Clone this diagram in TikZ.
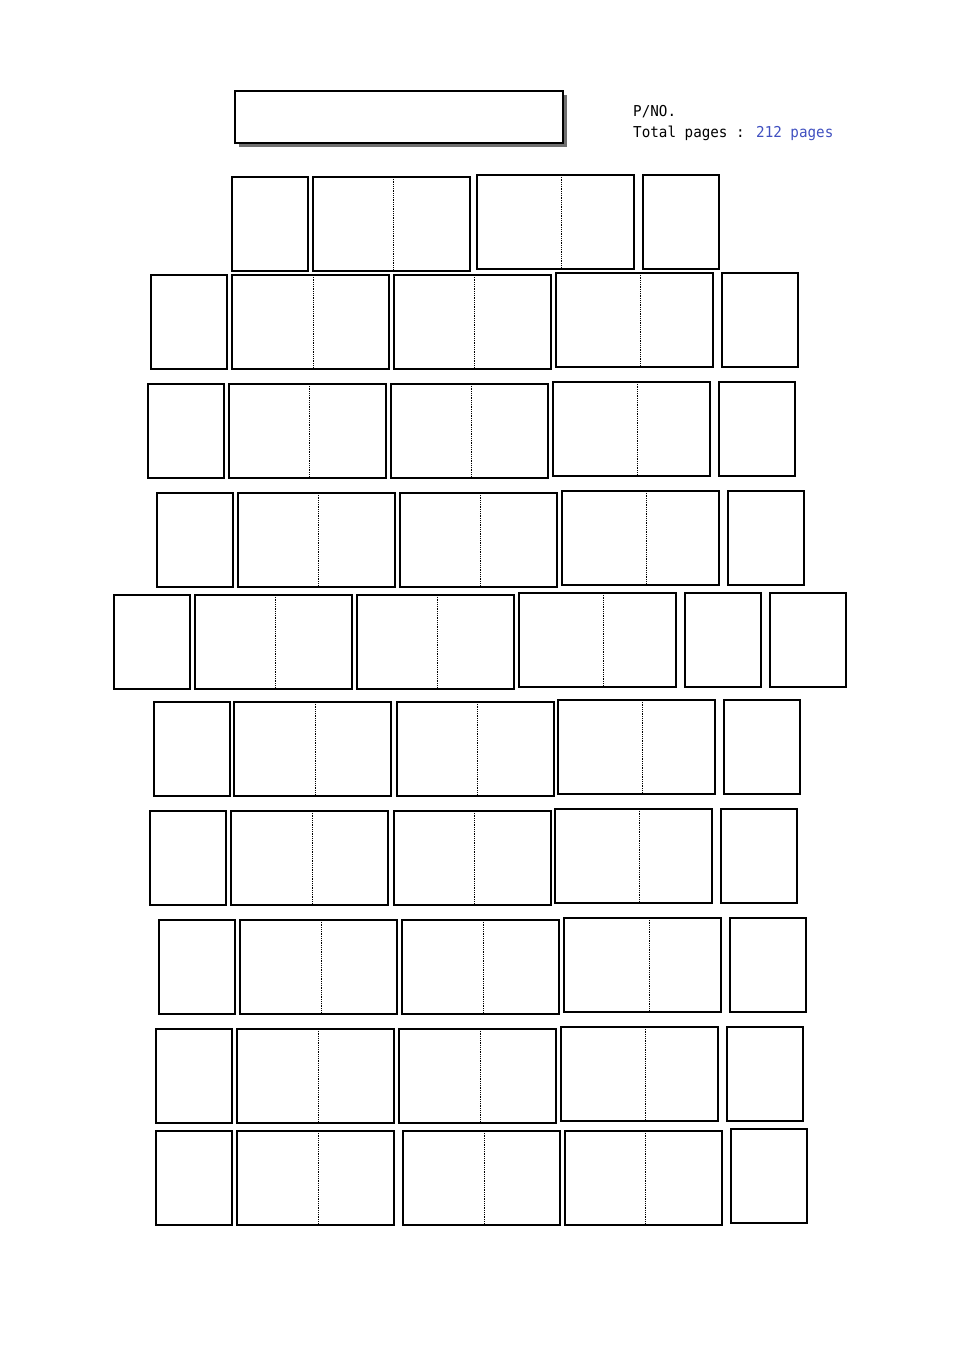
\documentclass[tikz,border=0pt]{standalone}
\usepackage{xcolor}
\usepackage{fontspec}
\newfontfamily\pnofont[FakeStretch=0.95]{DejaVu Sans Mono}
\definecolor{pageblue}{RGB}{64,80,192}
\definecolor{shadowgray}{RGB}{112,112,112}
\tikzset{
  page/.style={draw=black, line width=1.3pt, fill=white},
  fold/.style={draw=black, densely dotted, line width=0.8pt},
  infotext/.style={anchor=base west, inner sep=0pt, font=\pnofont\fontsize{15}{18}\selectfont}
}

\begin{document}
\begin{tikzpicture}[x=1pt,y=-1pt]
\useasboundingbox (0,0) rectangle (954,1350);

% title box with shadow
\fill[shadowgray] (239,95) rectangle (567,147);
\draw[page, line width=1.5pt] (235,91) rectangle (563,143);

\node[infotext] (pno) at (633,116) {P/NO.};
\node[infotext] (total) at (633,137) {Total pages : \textcolor{pageblue}{212 pages}};

% single pages (top left corner)
\foreach \x/\y in {232/177, 643/175,
                   151/275, 722/273,
                   148/384, 719/382,
                   157/493, 728/491,
                   114/595, 685/593, 770/593,
                   154/702, 724/700,
                   150/811, 721/809,
                   159/920, 730/918,
                   156/1029, 727/1027,
                   156/1131, 731/1129}
  \draw[page] (\x,\y) rectangle ++(76,94);

% spreads (top left corner / fold line)
\foreach \x/\y/\f in {313/177/393, 477/175/561,
                      232/275/313, 394/275/474, 556/273/640,
                      229/384/309, 391/384/471, 553/382/637,
                      238/493/318, 400/493/480, 562/491/646,
                      195/595/275, 357/595/437, 519/593/603,
                      234/702/315, 397/702/477, 558/700/642,
                      231/811/312, 394/811/474, 555/809/639,
                      240/920/321, 402/920/483, 564/918/649,
                      237/1029/318, 399/1029/480, 561/1027/645,
                      237/1131/318, 403/1131/484, 565/1131/645}
{
  \draw[page] (\x,\y) rectangle ++(157,94);
  \draw[fold] (\f,\y) -- ++(0,94);
}
\end{tikzpicture}
\end{document}
